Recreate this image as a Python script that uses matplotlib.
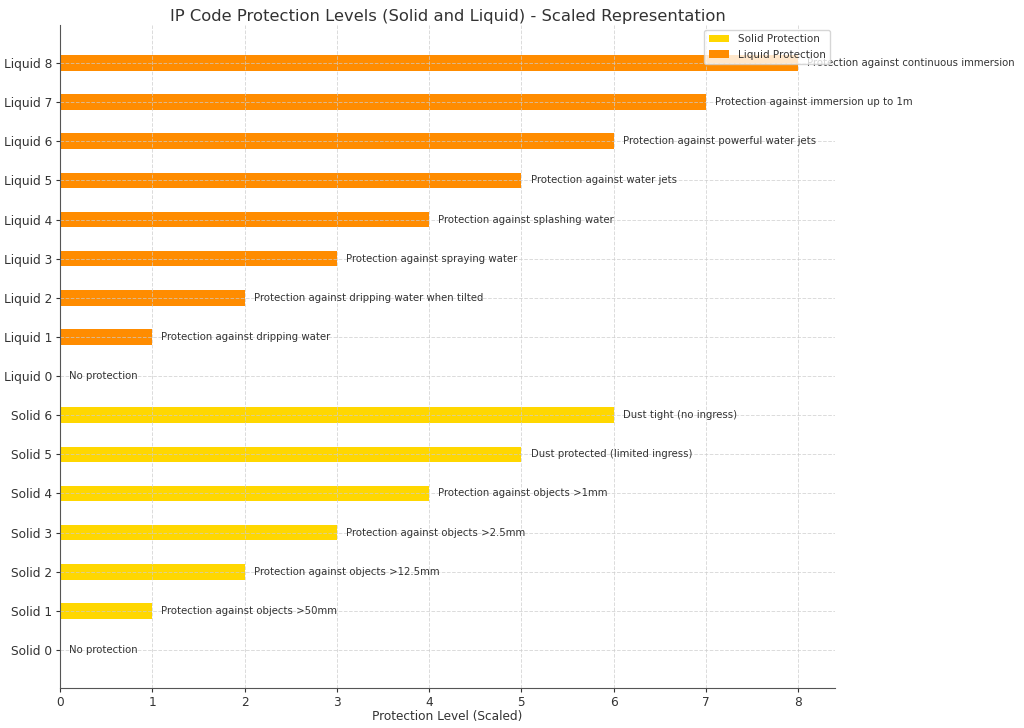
import matplotlib
matplotlib.use("Agg")
from matplotlib import pyplot as plt

# data
solid_labels = ["Solid 0", "Solid 1", "Solid 2", "Solid 3", "Solid 4", "Solid 5", "Solid 6"]
solid_levels = [0, 1, 2, 3, 4, 5, 6]
solid_desc = ["No protection",
              "Protection against objects >50mm",
              "Protection against objects >12.5mm",
              "Protection against objects >2.5mm",
              "Protection against objects >1mm",
              "Dust protected (limited ingress)",
              "Dust tight (no ingress)"]

liquid_labels = ["Liquid 0", "Liquid 1", "Liquid 2", "Liquid 3", "Liquid 4",
                 "Liquid 5", "Liquid 6", "Liquid 7", "Liquid 8"]
liquid_levels = [0, 1, 2, 3, 4, 5, 6, 7, 8]
liquid_desc = ["No protection",
               "Protection against dripping water",
               "Protection against dripping water when tilted",
               "Protection against spraying water",
               "Protection against splashing water",
               "Protection against water jets",
               "Protection against powerful water jets",
               "Protection against immersion up to 1m",
               "Protection against continuous immersion"]

text_col = "#333333"
plt.rcParams['text.color'] = text_col
plt.rcParams['axes.labelcolor'] = text_col
plt.rcParams['xtick.color'] = text_col
plt.rcParams['ytick.color'] = text_col

fig = plt.figure(figsize=(10.24, 7.28), dpi=100)
ax = fig.add_axes([0.0586, 0.0549, 0.7568, 0.9108])

solid_y = list(range(len(solid_levels)))
liquid_y = [len(solid_levels) + i for i in range(len(liquid_levels))]

ax.barh(solid_y, solid_levels, height=0.4, color='#FFD700', label='Solid Protection')
ax.barh(liquid_y, liquid_levels, height=0.4, color='#FF8C00', label='Liquid Protection')

for y, v, d in zip(solid_y, solid_levels, solid_desc):
    ax.text(v + 0.1, y, d, va='center', fontsize=7.3, color=text_col)
for y, v, d in zip(liquid_y, liquid_levels, liquid_desc):
    ax.text(v + 0.1, y, d, va='center', fontsize=7.3, color=text_col)

ax.set_yticks(solid_y + liquid_y)
ax.set_yticklabels(solid_labels + liquid_labels, fontsize=8.7)
ax.tick_params(axis='y', length=3, pad=2.5)
ax.tick_params(axis='x', labelsize=8.7, length=3, pad=2.5)
ax.set_xlabel("Protection Level (Scaled)", fontsize=8.7, labelpad=1)
ax.set_title("IP Code Protection Levels (Solid and Liquid) - Scaled Representation",
             fontsize=11.8, pad=3, color=text_col)

ax.grid(True, linestyle='--', color='#cccccc', alpha=0.7, linewidth=0.7)
ax.spines['top'].set_visible(False)
ax.spines['right'].set_visible(False)
for s in ['left', 'bottom']:
    ax.spines[s].set_color('#555555')

ax.legend(loc='upper right', fontsize=7.5, bbox_to_anchor=(1.0, 1.0))

fig.savefig("out.png", dpi=100)
